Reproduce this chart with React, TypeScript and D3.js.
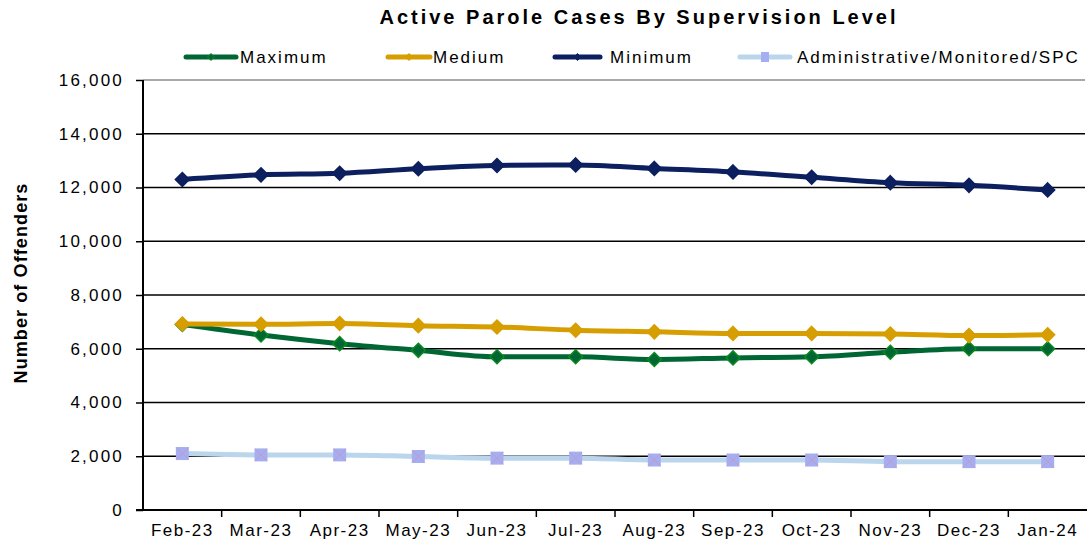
import * as d3 from "d3";
import { useRef, useEffect } from "react";

// chart data
const months = ["Feb-23", "Mar-23", "Apr-23", "May-23", "Jun-23", "Jul-23", "Aug-23", "Sep-23", "Oct-23", "Nov-23", "Dec-23", "Jan-24"];
const maximum = [6900, 6510, 6190, 5940, 5700, 5700, 5600, 5660, 5700, 5870, 6000, 6000];
const medium = [6920, 6910, 6940, 6860, 6810, 6690, 6630, 6570, 6570, 6550, 6490, 6520];
const minimum = [12300, 12470, 12530, 12700, 12820, 12840, 12710, 12580, 12380, 12180, 12080, 11910];
const administrative = [2100, 2050, 2050, 1990, 1930, 1930, 1860, 1860, 1860, 1800, 1800, 1800];
const yTicks = [0, 2000, 4000, 6000, 8000, 10000, 12000, 14000, 16000];

const width = 1087;
const height = 541;
const marginTop = 80;
const marginRight = 0;
const marginBottom = 31;
const marginLeft = 143;
const font = "'Liberation Sans', Arial, sans-serif";

const series = [
  { name: "Maximum", values: maximum, line: "#006633", fill: "#006633", stroke: "#0a8a1e", marker: "diamond" },
  { name: "Medium", values: medium, line: "#d69e00", fill: "#d69e00", stroke: "#d69e00", marker: "diamond" },
  { name: "Minimum", values: minimum, line: "#0c1f5e", fill: "#0c1f5e", stroke: "#0c1f5e", marker: "diamond" },
  { name: "Administrative/Monitored/SPC", values: administrative, line: "#bad5ec", fill: "#a4aef0", stroke: "#a4aef0", marker: "square" },
];

// legend placement (line start, text start)
const legendLineX = [186, 388, 555, 740];
const legendLineW = [50, 42, 45, 50];
const legendTextX = [240, 433, 610, 797];

const App = () => {
  const ref = useRef<SVGSVGElement>(null);

  useEffect(() => {
    if (!ref.current) return;
    const svg = d3.select(ref.current);
    svg.selectAll("*").remove();

    const x = d3.scaleBand().domain(months).range([marginLeft, width - marginRight]).padding(0);
    const y = d3.scaleLinear().domain([0, 16000]).range([height - marginBottom, marginTop]);
    const cx = (m: string) => (x(m) as number) + x.bandwidth() / 2;

    // gridlines
    svg.append("g")
      .selectAll("line")
      .data(yTicks.filter((t) => t > 0))
      .join("line")
      .attr("x1", marginLeft)
      .attr("x2", width - 2)
      .attr("y1", (d) => y(d))
      .attr("y2", (d) => y(d))
      .attr("stroke", (d) => (d === 16000 ? "#8c8c8c" : "#000"))
      .attr("stroke-width", 1.5);

    // y axis
    const yAxis = svg.append("g")
      .attr("transform", `translate(${marginLeft},0)`)
      .call(d3.axisLeft(y).tickValues(yTicks).tickSize(7).tickPadding(12).tickFormat(d3.format(",")));
    yAxis.select(".domain").attr("stroke-width", 2).attr("d", `M0,${y(16000)}V${y(0)}`);
    yAxis.selectAll(".tick line").attr("stroke-width", 1.5);
    yAxis.selectAll("text")
      .attr("font-family", font)
      .attr("font-size", 17)
      .attr("letter-spacing", 2.2)
      .attr("fill", "#000");

    // x axis
    const xAxis = svg.append("g")
      .attr("transform", `translate(0,${y(0)})`);
    xAxis.append("line")
      .attr("x1", marginLeft - 7)
      .attr("x2", width)
      .attr("stroke", "#000")
      .attr("stroke-width", 2);
    xAxis.selectAll("line.tk")
      .data(months.slice(1))
      .join("line")
      .attr("class", "tk")
      .attr("x1", (d) => x(d) as number)
      .attr("x2", (d) => x(d) as number)
      .attr("y1", 0)
      .attr("y2", 7)
      .attr("stroke", "#000")
      .attr("stroke-width", 1.5);
    xAxis.selectAll("text")
      .data(months)
      .join("text")
      .attr("x", (d) => cx(d))
      .attr("y", 26)
      .attr("text-anchor", "middle")
      .attr("font-family", font)
      .attr("font-size", 17)
      .attr("letter-spacing", 1.5)
      .text((d) => d);

    const line = d3.line<number>()
      .x((_, i) => cx(months[i]))
      .y((d) => y(d))
      .curve(d3.curveMonotoneX);

    const diamond = (s: number) => `M0,${-s}L${s},0L0,${s}L${-s},0Z`;

    // draw lines then markers, back series first
    const order = [3, 0, 1, 2];
    order.forEach((si) => {
      const s = series[si];
      const g = svg.append("g");
      g.append("path")
        .attr("d", line(s.values))
        .attr("fill", "none")
        .attr("stroke", s.line)
        .attr("stroke-width", 5)
        .attr("stroke-linejoin", "round");
      const m = g.selectAll("g.mk")
        .data(s.values)
        .join("g")
        .attr("class", "mk")
        .attr("transform", (d, i) => `translate(${cx(months[i])},${y(d)})`);
      if (s.marker === "diamond") {
        m.append("path")
          .attr("d", diamond(7))
          .attr("fill", s.fill)
          .attr("stroke", s.stroke)
          .attr("stroke-width", 1.5);
      } else {
        m.append("rect")
          .attr("x", -6.5).attr("y", -6.5).attr("width", 13).attr("height", 13)
          .attr("fill", s.fill);
        m.append("path")
          .attr("d", "M-6,-6L6,6M6,-6L-6,6")
          .attr("stroke", "#c39ac8")
          .attr("stroke-width", 1);
      }
    });

    // title
    svg.append("text")
      .attr("x", 639)
      .attr("y", 24)
      .attr("text-anchor", "middle")
      .attr("font-family", font)
      .attr("font-size", 20)
      .attr("font-weight", "bold")
      .attr("letter-spacing", 3)
      .text("Active Parole Cases By Supervision Level");

    // y axis title
    svg.append("text")
      .attr("transform", `translate(27,${283}) rotate(-90)`)
      .attr("text-anchor", "middle")
      .attr("font-family", font)
      .attr("font-size", 18)
      .attr("font-weight", "bold")
      .attr("letter-spacing", 1.1)
      .text("Number of Offenders");

    // legend
    const legend = svg.append("g");
    series.forEach((s, i) => {
      const lg = legend.append("g");
      lg.append("line")
        .attr("x1", legendLineX[i])
        .attr("x2", legendLineX[i] + legendLineW[i])
        .attr("y1", 57)
        .attr("y2", 57)
        .attr("stroke", s.line)
        .attr("stroke-width", 5)
        .attr("stroke-linecap", "round");
      const mx = legendLineX[i] + legendLineW[i] / 2;
      if (s.marker === "diamond") {
        lg.append("path")
          .attr("transform", `translate(${mx},57)`)
          .attr("d", diamond(3.5))
          .attr("fill", s.fill)
          .attr("stroke", s.stroke);
      } else {
        lg.append("rect")
          .attr("x", mx - 4).attr("y", 52).attr("width", 8).attr("height", 10)
          .attr("fill", s.fill);
      }
      lg.append("text")
        .attr("x", legendTextX[i])
        .attr("y", 63)
        .attr("font-family", font)
        .attr("font-size", 17)
        .attr("letter-spacing", 2)
        .text(s.name);
    });
  }, []);

  return (
    <svg
      ref={ref}
      width={width}
      height={height}
      style={{ position: "absolute", left: 0, top: 0, background: "#fff" }}
    />
  );
};

export default App;
